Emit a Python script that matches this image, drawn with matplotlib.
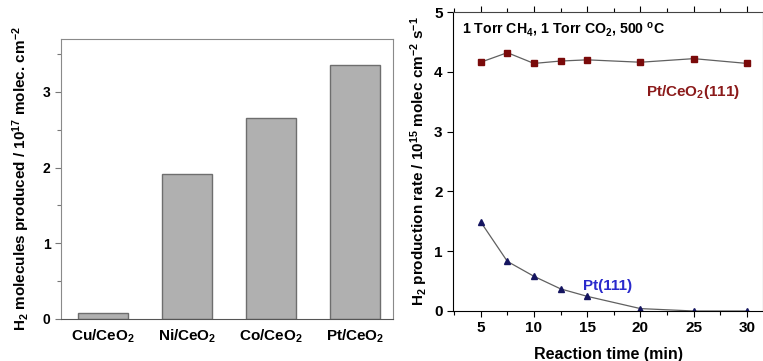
import matplotlib
matplotlib.use("Agg")
from matplotlib import pyplot as plt
from matplotlib.ticker import MultipleLocator
import numpy as np

# bar panel data
catalysts = ["Cu/CeO$_2$", "Ni/CeO$_2$", "Co/CeO$_2$", "Pt/CeO$_2$"]
h2_produced = [0.08, 1.91, 2.65, 3.35]

# rate vs time data
times = [5, 7.5, 10, 12.5, 15, 20, 25, 30]
rate_pt_ceo2 = [4.16, 4.32, 4.14, 4.18, 4.20, 4.16, 4.22, 4.14]
rate_pt111 = [1.49, 0.83, 0.58, 0.37, 0.245, 0.04, 0.0, 0.0]

plt.rcParams["font.family"] = ["Liberation Sans", "DejaVu Sans"]
plt.rcParams["font.weight"] = "bold"
plt.rcParams["mathtext.fontset"] = "custom"
plt.rcParams["mathtext.rm"] = "Liberation Sans:bold"
plt.rcParams["mathtext.it"] = "Liberation Sans:bold"
plt.rcParams["mathtext.bf"] = "Liberation Sans:bold"
plt.rcParams["mathtext.default"] = "rm"

fig = plt.figure(figsize=(7.63, 3.61), dpi=100)

# left: bar chart
ax1 = fig.add_axes([61/763, 42/361, 332/763, 280/361])
x = np.arange(len(catalysts))
ax1.bar(x, h2_produced, width=0.6, color="#b0b0b0", edgecolor="#6e6e6e", linewidth=1.0)
ax1.set_xlim(-0.5, 3.45)
ax1.set_ylim(0, 3.7)
ax1.set_xticks(x)
ax1.set_xticklabels(catalysts, fontsize=11, fontweight="bold")
ax1.tick_params(axis="x", length=0, pad=6)
ax1.yaxis.set_major_locator(MultipleLocator(1))
ax1.yaxis.set_minor_locator(MultipleLocator(0.5))
ax1.tick_params(axis="y", which="major", direction="out", length=4, width=0.8, color="#777777", labelsize=10)
ax1.tick_params(axis="y", which="minor", direction="out", length=3, width=0.8, color="#777777")
for s in ["top", "right", "left"]:
    ax1.spines[s].set_color("#8a8a8a")
ax1.spines["bottom"].set_color("#555555")
ax1.set_ylabel("H$_2$ molecules produced / 10$^{17}$ molec. cm$^{-2}$", fontsize=11, fontweight="bold", labelpad=8)

# right: line chart
ax2 = fig.add_axes([453/763, 50/361, 310/763, 299/361])
ax2.plot(times, rate_pt_ceo2, color="#606060", linewidth=0.9, marker="s", markersize=5,
         markerfacecolor="#7a0a0a", markeredgecolor="#7a0a0a")
ax2.plot(times, rate_pt111, color="#606060", linewidth=0.9, marker="^", markersize=5,
         markerfacecolor="#151560", markeredgecolor="#151560")
ax2.set_xlim(2.4, 31.5)
ax2.set_ylim(0, 5)
ax2.set_xticks([5, 10, 15, 20, 25, 30])
ax2.xaxis.set_minor_locator(MultipleLocator(2.5))
ax2.yaxis.set_major_locator(MultipleLocator(1))
ax2.tick_params(axis="both", which="major", direction="out", length=4, width=0.8, labelsize=11)
ax2.tick_params(axis="x", which="minor", direction="out", length=3, width=0.8)
ax2.tick_params(axis="x", which="both", top=True)
for s in ["top", "right"]:
    ax2.spines[s].set_color("#444444")
ax2.set_xlabel("Reaction time (min)", fontsize=11.5, fontweight="bold", labelpad=8)
ax2.set_ylabel("H$_2$ production rate / 10$^{15}$ molec cm$^{-2}$ s$^{-1}$", fontsize=11, fontweight="bold", labelpad=3)

ax2.text(3.2, 4.7, "1 Torr CH$_4$, 1 Torr CO$_2$, 500 $^o$C", fontsize=10.2, fontweight="bold", va="center")
ax2.text(24.9, 3.66, "Pt/CeO$_2$(111)", fontsize=11, fontweight="bold", color="#8b1a1a", ha="center", va="center")
ax2.text(16.9, 0.42, "Pt(111)", fontsize=11, fontweight="bold", color="#2a2acc", ha="center", va="center")

fig.savefig("out.png", dpi=100)
